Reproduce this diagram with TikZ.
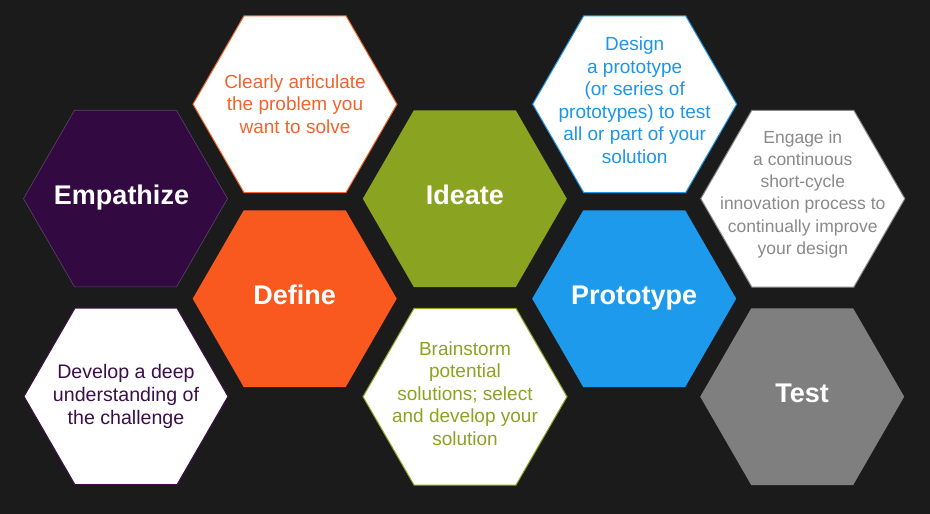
\documentclass[tikz,border=0pt]{standalone}
\usepackage{fontspec}
\setmainfont{Liberation Sans}
\usetikzlibrary{shapes.geometric}

\definecolor{bgdark}{HTML}{1B1B1B}
\definecolor{empcol}{HTML}{320A41}
\definecolor{empline}{HTML}{5C4468}
\definecolor{empink}{HTML}{3B0F4A}
\definecolor{defcol}{HTML}{F9591F}
\definecolor{defink}{HTML}{F0652D}
\definecolor{idecol}{HTML}{8AA320}
\definecolor{ideink}{HTML}{8CA322}
\definecolor{procol}{HTML}{1E9AEC}
\definecolor{proink}{HTML}{1E96E8}
\definecolor{tstcol}{HTML}{7F7F7F}
\definecolor{tstink}{HTML}{8A8A8A}

\tikzset{
  hexa/.style={regular polygon, regular polygon sides=6,
    minimum size=204pt, inner sep=0pt, outer sep=0pt},
  phase/.style={hexa, draw=none},
  note/.style={hexa, fill=white, line width=1pt},
  title/.style={anchor=base, text=white, font=\fontsize{27}{32}\selectfont\bfseries},
  blurb/.style={align=center, inner sep=0pt, font=\fontsize{19}{22.5}\selectfont},
}

\begin{document}
\begin{tikzpicture}[x=1pt, y=-1pt]
  \fill[bgdark] (0,0) rectangle (930,514);
  \useasboundingbox (0,0) rectangle (930,514);

  % the five phase hexagons
  \node[phase, fill=empcol, draw=empline, line width=0.6pt] (emp) at (125.5,198.6) {};
  \node[phase, fill=defcol] (def) at (294.7,298.7) {};
  \node[phase, fill=idecol] (ide) at (464.8,198.7) {};
  \node[phase, fill=procol] (pro) at (634.2,298.7) {};
  \node[phase, fill=tstcol] (tst) at (802.2,396.7) {};

  % the white description hexagons
  \node[note, draw=empink] (empd) at (126,396.4) {};
  \node[note, draw=defink] (defd) at (295,104.2) {};
  \node[note, draw=ideink] (ided) at (465,396.7) {};
  \node[note, draw=proink] (prod) at (634.7,104.2) {};
  \node[note, draw=tstink] (tstd) at (802.8,198.7) {};

  % phase names
  \node[title] (empt) at ([xshift=-4pt, yshift=-5.5pt]emp.center) {Empathize};
  \node[title] (deft) at ([yshift=-5.5pt]def.center) {Define};
  \node[title] (idet) at ([yshift=-5.5pt]ide.center) {Ideate};
  \node[title] (prot) at ([yshift=-5.5pt]pro.center) {Prototype};
  \node[title] (tstt) at ([yshift=-5.5pt]tst.center) {Test};

  % phase descriptions
  \node[blurb, text=empink, font=\fontsize{19.6}{22.8}\selectfont] (empx) at (126,396.3)
    {Develop a deep\\understanding of\\the challenge};
  \node[blurb, text=defink] (defx) at (295,104.2)
    {Clearly articulate\\the problem you\\want to solve};
  \node[blurb, text=ideink] (idex) at (465,393.7)
    {Brainstorm\\potential\\solutions; select\\and develop your\\solution};
  \node[blurb, text=proink] (prox) at (634.7,100)
    {Design\\a prototype\\(or series of\\prototypes) to test\\all or part of your\\solution};
  \node[blurb, text=tstink, font=\fontsize{17.5}{22.3}\selectfont] (tstx) at (802.8,194.3)
    {Engage in\\a continuous\\short-cycle\\innovation process to\\continually improve\\your design};
\end{tikzpicture}
\end{document}
